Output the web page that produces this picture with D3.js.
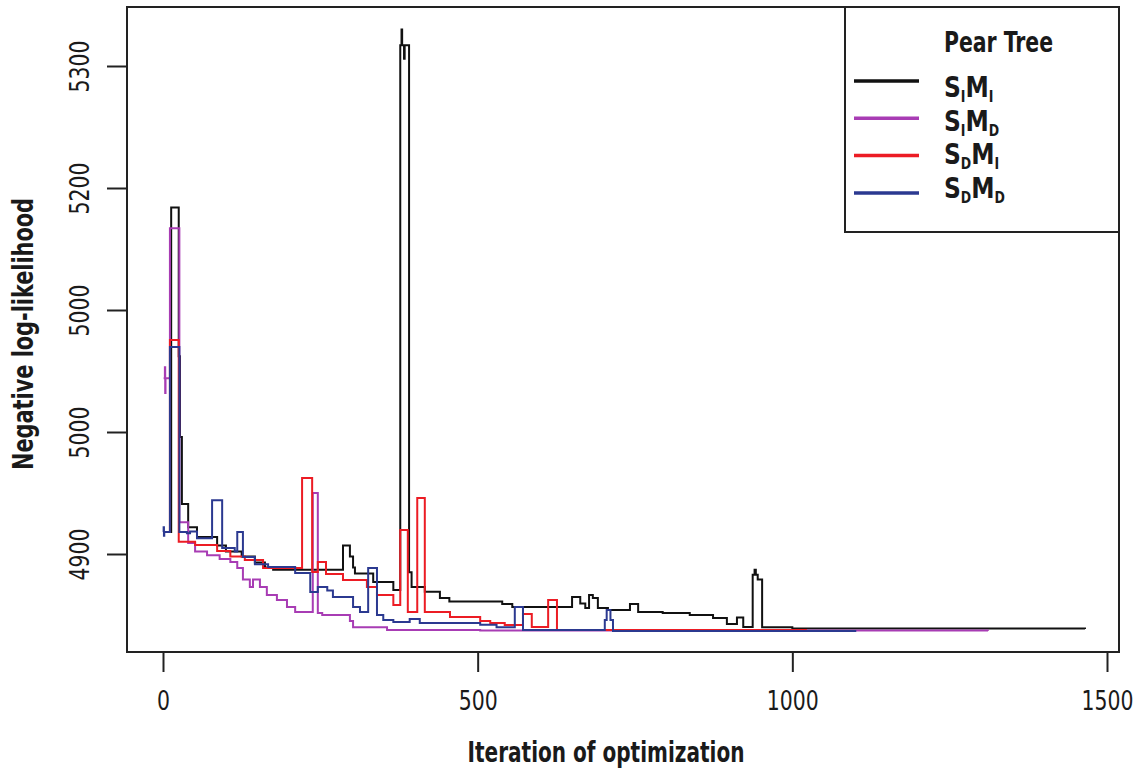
<!DOCTYPE html>
<html>
<head>
<meta charset="utf-8">
<script src="https://cdn.jsdelivr.net/npm/d3@7"></script>
<style>
  html, body { margin: 0; padding: 0; background: #fff; }
  svg { display: block; }
  text { font-family: 'Liberation Sans Narrow', 'Arial Narrow', 'DejaVu Sans Condensed', sans-serif; font-stretch: condensed; fill: #1a1a1a; }
</style>
</head>
<body>
<svg id="chart" width="1140" height="774"></svg>
<script>
// ---------------- data ----------------
const xTicks = [0, 500, 1000, 1500];
const xTickLabels = ["0", "500", "1000", "1500"];
const yTicks = [4900, 5000, 5100, 5200, 5300];
const yTickLabels = ["4900", "5000", "5000", "5200", "5300"];

const seriesNames = ["SIMI", "SIMD", "SDMI", "SDMD"];
const legendTitle = "Pear Tree";
const legendParts = [["S", "I", "M", "I"], ["S", "I", "M", "D"], ["S", "D", "M", "I"], ["S", "D", "M", "D"]];
const seriesColors = ["#111111", "#a83cb4", "#ec1c24", "#2b3990"];

// [iteration, negative log-likelihood] — step after
const dataSIMI = [[8,4918],[13,5184],[25,5062],[27,4996],[30,4941],[40,4922],[54,4914],[86,4907],[100,4902],[125,4898],[146,4893],[162,4889],[175,4887],[286,4907],[297,4898],[302,4889],[305,4884],[334,4877],[366,4870.5],[377,5317],[379,5330],[380,5317],[383,5306],[384,5317],[391,4885],[395,4873],[416,4869],[440,4864],[455,4861],[539,4859],[555,4856.6],[650,4864.7],[663,4859.5],[671,4855.7],[677,4866.4],[683,4864],[691,4855.7],[707,4854.1],[742,4859],[755,4852.5],[794,4851.6],[837,4850],[874,4847.5],[896,4842.6],[912,4848],[922,4840.2],[937,4883],[940,4887],[942,4883],[945,4879],[952,4840],[1000,4839],[1465,4838.5]];
const dataSIMD = [[1,5044],[3,5053],[3.5,5032],[4,5044],[11,5167],[26,4926],[40,4909],[51,4902],[70,4899],[90,4896],[107,4893.4],[118,4888.5],[127,4879],[138,4873],[143,4879],[154,4873],[165,4866.4],[181,4862.3],[197,4856.6],[210,4852.5],[238,4950],[246,4851.6],[253,4850],[297,4845],[302,4840],[356,4837.7],[504,4837.3],[1311,4837]];
const dataSDMI = [[6,4918],[11,5075.4],[25,4910],[51,4907.4],[86,4902.5],[107,4898],[130,4895],[159,4888.5],[221,4962.3],[237,4885.2],[246,4893.4],[259,4883.6],[286,4878.7],[324,4873],[340,4866.4],[366,4858.2],[377,4919.6],[389,4852.5],[404,4945.9],[416,4852.5],[456,4848.3],[504,4845],[520,4843.4],[543,4841.8],[572,4850.8],[586,4840.2],[612,4862.3],[626,4837.7],[1023,4837.7]];
const dataSDMD = [[0,4918],[1,4922],[1.5,4915],[2,4918],[11,5069.7],[26,4918],[38,4917],[43,4918.5],[54,4913],[78,4944],[94,4905],[114,4902],[118,4918],[127,4897.5],[146,4891.7],[167,4889.3],[210,4884.4],[234,4868.8],[246,4872.9],[261,4870],[270,4864.7],[302,4856.6],[313,4852.5],[326,4888.5],[340,4850],[350,4845.9],[366,4844.2],[392,4846.7],[408,4843.4],[504,4842],[530,4840],[559,4856.6],[572,4837.7],[702,4846],[705,4854],[711,4846],[715,4836.9],[1100,4836]];
const allSeries = [dataSIMI, dataSIMD, dataSDMI, dataSDMD];

// ---------------- layout ----------------
const frame = { left: 127, right: 1119, top: 7, bottom: 652 };
const svg = d3.select("#chart");
const digitW = 13; // condensed digit advance

const x = d3.scaleLinear().domain([0, 1500]).range([163, 1107]);
const y = d3.scaleLinear().domain([4900, 5300]).range([554, 66]);

// plot frame
svg.append("rect")
  .attr("x", frame.left).attr("y", frame.top)
  .attr("width", frame.right - frame.left).attr("height", frame.bottom - frame.top)
  .attr("fill", "none").attr("stroke", "#222").attr("stroke-width", 2);

// lines
const line = d3.line().x(d => x(d[0])).y(d => y(d[1])).curve(d3.curveStepAfter);
svg.append("g").selectAll("path").data(allSeries).join("path")
  .attr("d", line)
  .attr("fill", "none")
  .attr("stroke", (d, i) => seriesColors[i])
  .attr("stroke-width", 2)
  .attr("stroke-linejoin", "miter");

// axes
const xAxis = svg.append("g").attr("transform", `translate(0,${frame.bottom})`)
  .call(d3.axisBottom(x).tickValues(xTicks).tickFormat((d, i) => xTickLabels[i]).tickSize(20).tickSizeOuter(0));
xAxis.select(".domain").remove();
xAxis.selectAll("line").attr("stroke", "#222").attr("stroke-width", 2);
xAxis.selectAll("text").attr("y", 58).attr("dy", 0)
  .attr("textLength", (d, i) => xTickLabels[i].length * digitW)
  .attr("lengthAdjust", "spacingAndGlyphs")
  .style("font-size", "27px").attr("fill", "#1a1a1a");

const yAxis = svg.append("g").attr("transform", `translate(${frame.left},0)`)
  .call(d3.axisLeft(y).tickValues(yTicks).tickFormat((d, i) => yTickLabels[i]).tickSize(20).tickSizeOuter(0));
yAxis.select(".domain").remove();
yAxis.selectAll("line").attr("stroke", "#222").attr("stroke-width", 2);
yAxis.selectAll("text")
  .attr("transform", "rotate(-90)")
  .attr("x", 0).attr("y", -38).attr("dy", 0)
  .attr("text-anchor", "middle")
  .attr("textLength", (d, i) => yTickLabels[i].length * digitW)
  .attr("lengthAdjust", "spacingAndGlyphs")
  .style("font-size", "27px").attr("fill", "#1a1a1a");

// axis titles
svg.append("text")
  .attr("x", 606).attr("y", 762)
  .attr("text-anchor", "middle")
  .attr("textLength", 277).attr("lengthAdjust", "spacingAndGlyphs")
  .style("font-size", "28px").style("font-weight", "bold")
  .text("Iteration of optimization");

svg.append("text")
  .attr("transform", "translate(33,334) rotate(-90)")
  .attr("text-anchor", "middle")
  .attr("textLength", 272).attr("lengthAdjust", "spacingAndGlyphs")
  .style("font-size", "28px").style("font-weight", "bold")
  .text("Negative log-likelihood");

// legend
const lg = svg.append("g");
lg.append("rect")
  .attr("x", 845).attr("y", frame.top)
  .attr("width", frame.right - 845).attr("height", 225)
  .attr("fill", "#fff").attr("stroke", "#222").attr("stroke-width", 2);
lg.append("text")
  .attr("x", 944).attr("y", 52)
  .attr("textLength", 109).attr("lengthAdjust", "spacingAndGlyphs")
  .style("font-size", "28px").style("font-weight", "bold")
  .text(legendTitle);

seriesNames.forEach((name, i) => {
  const ly = 81 + i * 37.3;
  lg.append("line")
    .attr("x1", 854).attr("x2", 919)
    .attr("y1", ly).attr("y2", ly)
    .attr("stroke", seriesColors[i]).attr("stroke-width", 3.5);
  const t = lg.append("g")
    .attr("transform", `translate(944,${97 + i * 33.7}) scale(0.93,1)`)
    .append("text")
    .attr("x", 0).attr("y", 0)
    .style("font-size", "28px").style("font-weight", "bold");
  const p = legendParts[i];
  t.append("tspan").text(p[0]);
  t.append("tspan").attr("dy", 5).style("font-size", "15px").text(p[1]);
  t.append("tspan").attr("dy", -5).text(p[2]);
  t.append("tspan").attr("dy", 5).style("font-size", "15px").text(p[3]);
});
</script>
</body>
</html>
